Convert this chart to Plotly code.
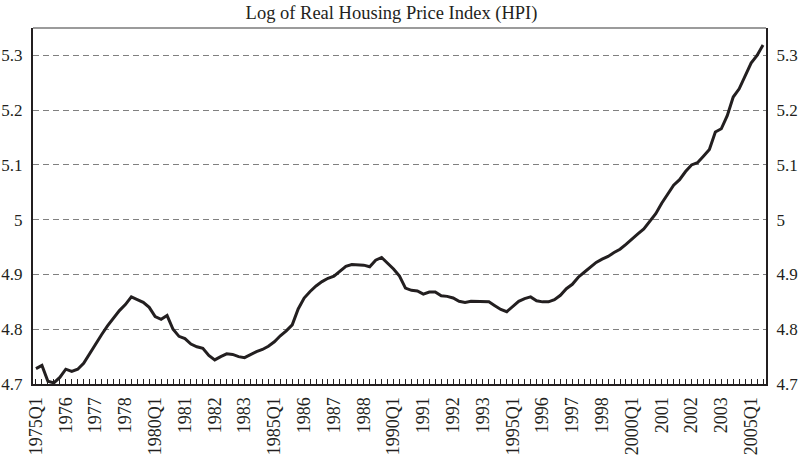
import plotly.graph_objects as go

# Quarterly categories 1975Q1 .. 2005Q3
years = list(range(1975, 2006))
quarters = [f"{y}Q{q}" for y in years for q in (1, 2, 3, 4)][:123]

log_hpi = [
    4.728, 4.734, 4.705, 4.702, 4.712, 4.727, 4.723, 4.727, 4.738, 4.756,
    4.773, 4.790, 4.806, 4.821, 4.834, 4.845, 4.859, 4.854, 4.849, 4.840,
    4.823, 4.818, 4.825, 4.800, 4.787, 4.783, 4.773, 4.768, 4.765, 4.752,
    4.744, 4.750, 4.755, 4.754, 4.750, 4.748, 4.754, 4.759, 4.763, 4.769,
    4.777, 4.788, 4.797, 4.808, 4.837, 4.857, 4.869, 4.879, 4.887, 4.893,
    4.897, 4.906, 4.915, 4.918, 4.917, 4.917, 4.914, 4.926, 4.931, 4.920,
    4.910, 4.897, 4.875, 4.871, 4.870, 4.864, 4.868, 4.868, 4.861, 4.860,
    4.857, 4.851, 4.849, 4.851, 4.851, 4.851, 4.850, 4.843, 4.836, 4.832,
    4.841, 4.851, 4.856, 4.859, 4.852, 4.850, 4.850, 4.854, 4.862, 4.874,
    4.882, 4.895, 4.904, 4.913, 4.922, 4.928, 4.933, 4.940, 4.946, 4.955,
    4.965, 4.974, 4.983, 4.996, 5.011, 5.030, 5.046, 5.063, 5.073, 5.088,
    5.100, 5.104, 5.116, 5.128, 5.160, 5.166, 5.190, 5.224, 5.239, 5.263,
    5.286, 5.300, 5.319,
]

tick_positions = ["1975Q1", "1976Q2", "1977Q3", "1978Q4", "1980Q1", "1981Q2", "1982Q3",
                  "1983Q4", "1985Q1", "1986Q2", "1987Q3", "1988Q4", "1990Q1", "1991Q2",
                  "1992Q3", "1993Q4", "1995Q1", "1996Q2", "1997Q3", "1998Q4", "2000Q1",
                  "2001Q2", "2002Q3", "2003Q4", "2005Q1"]
tick_labels = ["1975Q1", "1976", "1977", "1978", "1980Q1", "1981", "1982", "1983",
               "1985Q1", "1986", "1987", "1988", "1990Q1", "1991", "1992", "1993",
               "1995Q1", "1996", "1997", "1998", "2000Q1", "2001", "2002", "2003", "2005Q1"]

y_ticks = [4.7, 4.8, 4.9, 5.0, 5.1, 5.2, 5.3]
y_labels = ["4.7", "4.8", "4.9", "5", "5.1", "5.2", "5.3"]

idx = list(range(len(quarters)))
tick_idx = [quarters.index(q) for q in tick_positions]

FONT = "Liberation Serif"
INK = "#231f20"

fig = go.Figure()
fig.add_trace(go.Scatter(x=idx, y=log_hpi, mode="lines",
                         line=dict(color=INK, width=3), hoverinfo="skip",
                         showlegend=False))
fig.add_trace(go.Scatter(x=idx, y=log_hpi, mode="lines", yaxis="y2",
                         line=dict(color="rgba(0,0,0,0)", width=0), hoverinfo="skip",
                         showlegend=False))

fig.update_layout(
    width=799, height=458,
    margin=dict(l=33, r=33, t=28, b=74, autoexpand=False),
    paper_bgcolor="white", plot_bgcolor="white",
    font=dict(family=FONT, size=18, color=INK),
    title=dict(text="Log of Real Housing Price Index (HPI)", x=0.49, xanchor="center",
               y=0.972, yanchor="middle", font=dict(family=FONT, size=18.5, color=INK)),
    xaxis=dict(range=[-0.5, len(quarters) - 0.5], tickmode="array", tickvals=tick_idx,
               ticktext=tick_labels, tickangle=-90, ticks="inside", ticklen=5,
               tickcolor=INK, tickwidth=1, automargin=False,
               tickfont=dict(family=FONT, size=18, color=INK),
               minor=dict(dtick=1, tick0=0, ticks="inside", ticklen=5,
                          tickcolor=INK, tickwidth=1, showgrid=False),
               showline=True, linecolor=INK, linewidth=2, showgrid=False,
               zeroline=False, ticklabelstandoff=4),
    yaxis=dict(range=[4.7, 5.35], tickmode="array", tickvals=y_ticks, ticktext=y_labels,
               showline=True, linecolor=INK, linewidth=2, ticks="", automargin=False,
               tickfont=dict(family=FONT, size=17, color=INK),
               showgrid=True, gridcolor="#808080", gridwidth=1, griddash="6px,4px",
               zeroline=False, ticklabelstandoff=5),
    yaxis2=dict(range=[4.7, 5.35], tickmode="array", tickvals=y_ticks, ticktext=y_labels,
                overlaying="y", side="right", showline=True, linecolor=INK,
                tickfont=dict(family=FONT, size=17, color=INK),
                linewidth=2, ticks="", showgrid=False, zeroline=False, automargin=False,
                ticklabelstandoff=5),
    shapes=[dict(type="line", xref="paper", yref="paper", x0=0, x1=1, y0=1, y1=1,
                 line=dict(color="#7a7a7a", width=1.5))],
)

fig.write_html("out.html", config={"displayModeBar": False},
               post_script="document.body.style.margin='0';")
